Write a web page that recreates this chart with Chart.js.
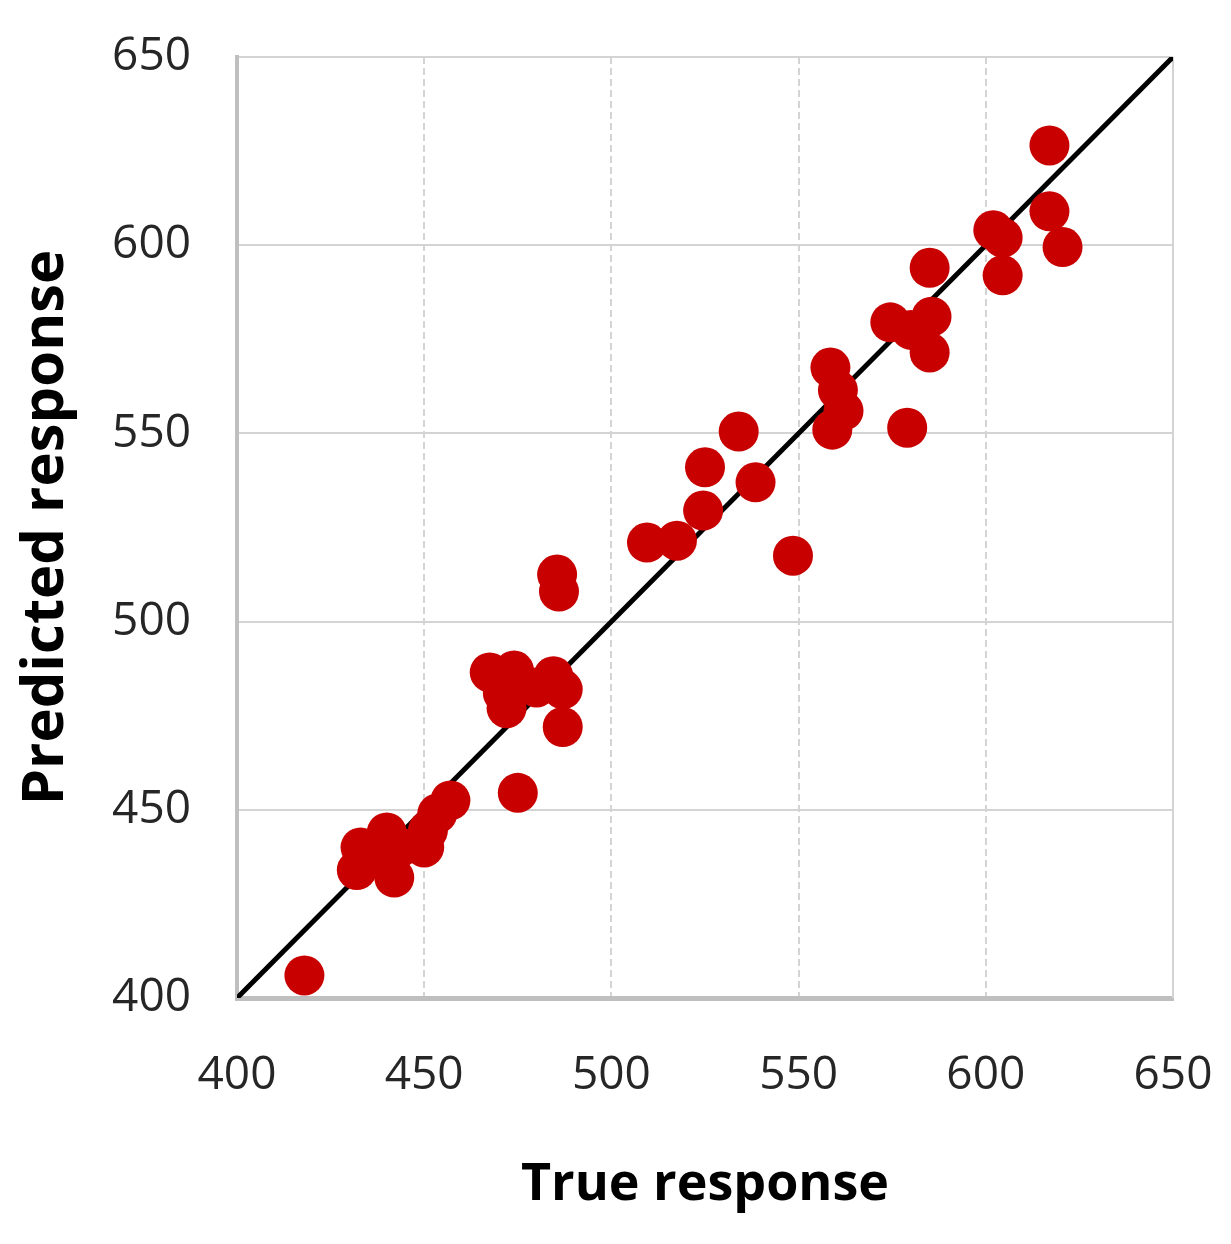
<!DOCTYPE html>
<html>
<head>
<meta charset="utf-8">
<script src="https://cdn.jsdelivr.net/npm/chart.js@4"></script>
<style>
  body { margin: 0; background: #fff; }
  canvas { display: block; }
</style>
</head>
<body>
<canvas id="grafico" width="1231" height="1244"></canvas>
<script>
// valores
const trueValues = [
  418, 433, 432, 437, 440, 443.5, 442, 450, 451, 453.5, 457,
  467.5, 474, 484.5, 471, 472, 480, 487, 487, 475, 485.5, 486,
  509.5, 517.5, 524.5, 525, 534, 538.5, 548.5, 559, 562, 560.5, 558.5,
  579, 574.5, 580, 585.5, 585, 585, 602, 604.5, 604.5, 617, 617, 620.5
];
const predictedValues = [
  406, 440, 434, 437.5, 444, 440, 432, 440, 444.5, 449, 452.5,
  486.5, 487, 485.5, 481, 477, 482.5, 482, 472, 454.5, 512.5, 508,
  521, 521.5, 529.5, 541, 550.5, 537, 517.5, 551, 556, 561.5, 567.5,
  551.5, 579.5, 577.5, 581, 571.5, 594, 604, 602, 592, 626.5, 609, 599.5
];
const idealLine = [400, 650];
const tickValues = [400, 450, 500, 550, 600, 650];

const pontos = trueValues.map((x, i) => ({ x, y: predictedValues[i] }));
const linha = idealLine.map(v => ({ x: v, y: v }));

// borda direita da área (o grid vertical é tracejado)
const bordaDireita = {
  id: 'bordaDireita',
  beforeDatasetsDraw(chart) {
    const { ctx, chartArea } = chart;
    ctx.save();
    ctx.strokeStyle = '#d4d4d4';
    ctx.lineWidth = 2;
    ctx.beginPath();
    ctx.moveTo(chartArea.right, chartArea.top);
    ctx.lineTo(chartArea.right, chartArea.bottom);
    ctx.stroke();
    ctx.restore();
  }
};

const fonteTicks = { family: 'Open Sans', size: 46 };

new Chart(document.getElementById('grafico').getContext('2d'), {
  type: 'scatter',
  data: {
    datasets: [
      {
        label: 'Pontos',
        data: pontos,
        backgroundColor: '#c80000',
        borderColor: '#c80000',
        borderWidth: 0,
        pointRadius: 20,
        pointHoverRadius: 20,
        order: 0
      },
      {
        type: 'line',
        label: 'y = x',
        data: linha,
        borderColor: '#000000',
        borderWidth: 5,
        pointRadius: 0,
        fill: false,
        order: 1
      }
    ]
  },
  options: {
    responsive: false,
    animation: false,
    layout: { padding: { top: 57, right: 58, left: 0, bottom: 0 } },
    plugins: {
      legend: { display: false },
      tooltip: { enabled: false }
    },
    scales: {
      x: {
        type: 'linear',
        min: 400,
        max: 650,
        afterBuildTicks: s => { s.ticks = tickValues.map(v => ({ value: v })); },
        afterFit: s => { s.height = 246; s.paddingLeft = 0; s.paddingRight = 0; },
        ticks: { font: fonteTicks, color: '#262626', padding: 50 },
        grid: { color: '#d4d4d4', lineWidth: 2, drawTicks: false },
        border: { color: '#bfbfbf', width: 5, dash: [7, 4] },
        title: {
          display: true,
          text: 'True response',
          color: '#000',
          font: { family: 'Open Sans', size: 52, weight: 'bold' },
          padding: { top: 0, bottom: 28 }
        }
      },
      y: {
        type: 'linear',
        min: 400,
        max: 650,
        afterBuildTicks: s => { s.ticks = tickValues.map(v => ({ value: v })); },
        afterFit: s => { s.width = 237; s.paddingTop = 0; s.paddingBottom = 0; },
        ticks: { font: fonteTicks, color: '#262626', padding: 46 },
        grid: { color: '#d4d4d4', lineWidth: 2, drawTicks: false },
        border: { color: '#bfbfbf', width: 4 },
        title: {
          display: true,
          text: 'Predicted response',
          color: '#000',
          font: { family: 'Open Sans', size: 58, weight: 'bold' },
          padding: { top: 12, bottom: 0 }
        }
      }
    }
  },
  plugins: [bordaDireita]
});
</script>
</body>
</html>
